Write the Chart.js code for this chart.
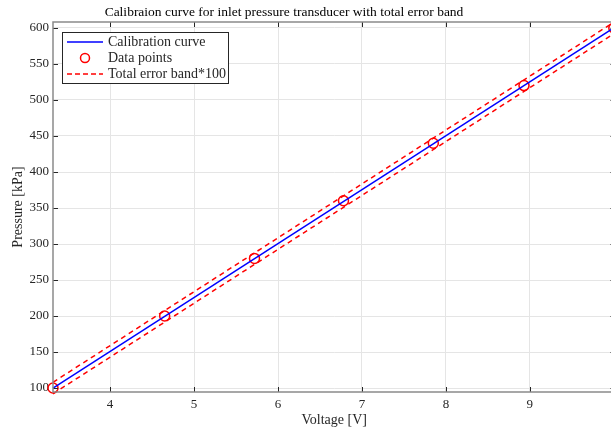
<!DOCTYPE html>
<html>
<head>
<meta charset="utf-8">
<script src="https://cdn.jsdelivr.net/npm/chart.js@4"></script>
<style>
  html, body { margin: 0; padding: 0; background: #fff; overflow: hidden; }
  #wrap { width: 611px; height: 433px; overflow: hidden; }
  canvas { display: block; }
</style>
</head>
<body>
<div id="wrap"><canvas id="c" width="622" height="433"></canvas></div>
<script>
// Measured calibration points
const voltage = [3.32, 4.65, 5.72, 6.78, 7.85, 8.93, 10.0];
const pressure = [100, 200, 280, 360, 440, 520, 600];

// Linear calibration fit, evaluated at the ends of the voltage range
const fitVoltage = [3.32, 10.0];
const fitPressure = [100, 600];

// Total error band (scaled by 100 for visibility)
const bandUpper = [108, 608];
const bandLower = [92, 592];

// Axis ticks
const xTicks = [4, 5, 6, 7, 8, 9];
const yTicks = [100, 150, 200, 250, 300, 350, 400, 450, 500, 550, 600];

const FONT = "'Liberation Serif', 'DejaVu Serif', serif";
const TXT = '#262626';

const pts = (xs, ys) => xs.map((x, i) => ({ x, y: ys[i] }));

const legendItems = [
  { label: 'Calibration curve', kind: 'line', color: '#0000ff' },
  { label: 'Data points', kind: 'circle', color: '#ff0000' },
  { label: 'Total error band*100', kind: 'dash', color: '#ff0000' }
];

// Frame, inward tick marks, title and legend
const decor = {
  id: 'decor',
  afterDatasetsDraw(chart) {
    const { ctx, chartArea: a, scales: { x, y } } = chart;
    ctx.save();
    // inward ticks
    ctx.strokeStyle = '#262626';
    ctx.lineWidth = 1;
    ctx.beginPath();
    xTicks.forEach(v => {
      const px = Math.round(x.getPixelForValue(v)) + 0.5;
      ctx.moveTo(px, a.bottom); ctx.lineTo(px, a.bottom - 5);
      ctx.moveTo(px, a.top); ctx.lineTo(px, a.top + 5);
    });
    yTicks.forEach(v => {
      const py = Math.round(y.getPixelForValue(v)) + 0.5;
      ctx.moveTo(a.left, py); ctx.lineTo(a.left + 5, py);
      ctx.moveTo(a.right, py); ctx.lineTo(a.right - 5, py);
    });
    ctx.stroke();
    // frame
    ctx.strokeStyle = '#8a8a8a';
    ctx.lineWidth = 1.5;
    ctx.strokeRect(a.left, a.top, a.right - a.left, a.bottom - a.top);

    // title
    ctx.fillStyle = '#000';
    ctx.font = `13.5px ${FONT}`;
    ctx.textAlign = 'center';
    ctx.textBaseline = 'middle';
    ctx.fillText('Calibraion curve for inlet pressure transducer with total error band', 284, 12);

    // legend
    const lx = 62, ly = 32, lw = 166, lh = 51;
    ctx.fillStyle = '#fff';
    ctx.fillRect(lx, ly, lw, lh);
    ctx.strokeStyle = '#262626';
    ctx.lineWidth = 1;
    ctx.strokeRect(lx + 0.5, ly + 0.5, lw, lh);
    ctx.font = `14px ${FONT}`;
    ctx.textAlign = 'left';
    legendItems.forEach((it, i) => {
      const cy = ly + 10 + i * 16;
      ctx.strokeStyle = it.color;
      ctx.lineWidth = 1.5;
      if (it.kind === 'line') {
        ctx.setLineDash([]);
        ctx.beginPath(); ctx.moveTo(67, cy); ctx.lineTo(103, cy); ctx.stroke();
      } else if (it.kind === 'dash') {
        ctx.setLineDash([5, 3]);
        ctx.beginPath(); ctx.moveTo(67, cy); ctx.lineTo(103, cy); ctx.stroke();
        ctx.setLineDash([]);
      } else {
        ctx.beginPath(); ctx.arc(85, cy, 4.5, 0, Math.PI * 2); ctx.stroke();
      }
      ctx.fillStyle = TXT;
      ctx.fillText(it.label, 108, cy);
    });
    ctx.restore();
  }
};

new Chart(document.getElementById('c'), {
  type: 'scatter',
  data: {
    datasets: [
      {
        label: 'Total error band*100',
        data: pts(fitVoltage, bandUpper),
        showLine: true, borderColor: '#ff0000', borderWidth: 1.5,
        borderDash: [5, 4], pointRadius: 0, fill: false
      },
      {
        label: 'Total error band lower',
        data: pts(fitVoltage, bandLower),
        showLine: true, borderColor: '#ff0000', borderWidth: 1.5,
        borderDash: [5, 4], pointRadius: 0, fill: false
      },
      {
        label: 'Calibration curve',
        data: pts(fitVoltage, fitPressure),
        showLine: true, borderColor: '#0000ff', borderWidth: 1.5,
        pointRadius: 0, fill: false
      },
      {
        label: 'Data points',
        data: pts(voltage, pressure),
        showLine: false, borderColor: '#ff0000', borderWidth: 1.5,
        backgroundColor: 'rgba(0,0,0,0)', pointRadius: 5, pointStyle: 'circle'
      }
    ]
  },
  options: {
    responsive: false,
    animation: false,
    clip: false,
    layout: { padding: { top: 22, right: 0, left: 0, bottom: 0 } },
    plugins: { legend: { display: false }, title: { display: false }, tooltip: { enabled: false } },
    scales: {
      x: {
        type: 'linear', min: 3.32, max: 10.02,
        afterBuildTicks: s => { s.ticks = xTicks.map(v => ({ value: v })); },
        afterFit: s => { s.height = 41; },
        grid: { color: '#e5e5e5', drawTicks: false },
        border: { display: false },
        ticks: { color: TXT, font: { family: FONT, size: 13 }, padding: 5, maxRotation: 0 },
        title: { display: true, text: 'Voltage [V]', color: TXT, font: { family: FONT, size: 14 }, padding: { top: 0, bottom: 4 } }
      },
      y: {
        type: 'linear', min: 94.5, max: 608.3,
        afterBuildTicks: s => { s.ticks = yTicks.map(v => ({ value: v })); },
        afterFit: s => { s.width = 53; },
        grid: { color: '#e5e5e5', drawTicks: false },
        border: { display: false },
        ticks: { color: TXT, font: { family: FONT, size: 13 }, padding: 4 },
        title: { display: true, text: 'Pressure [kPa]', color: TXT, font: { family: FONT, size: 14 }, padding: { top: 10, bottom: 0 } }
      }
    }
  },
  plugins: [decor]
});
</script>
</body>
</html>
